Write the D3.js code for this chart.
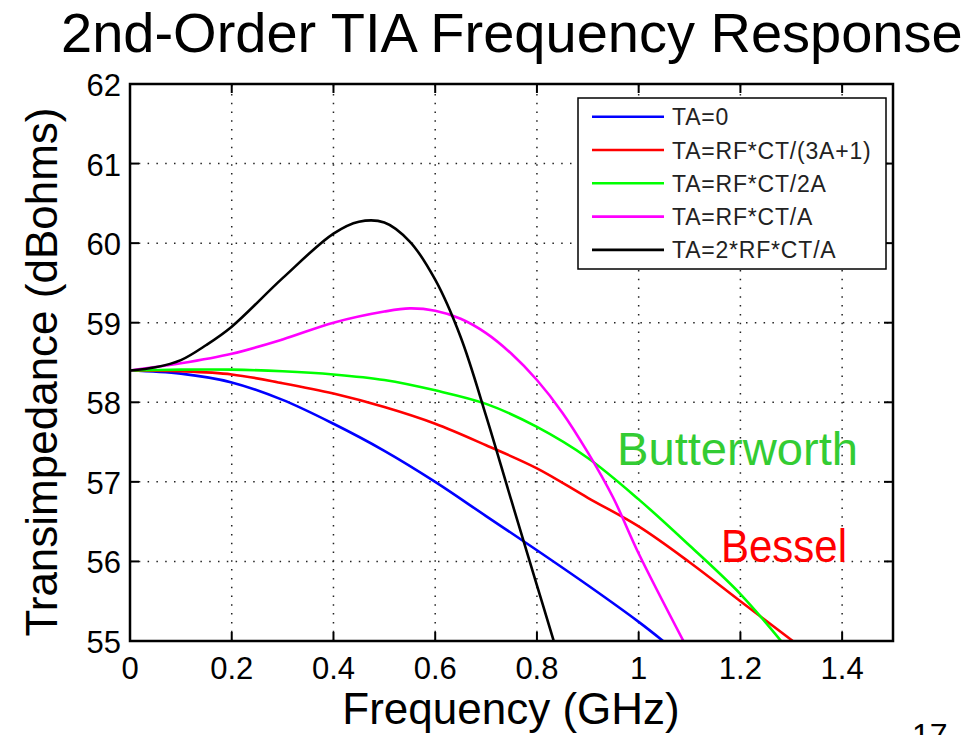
<!DOCTYPE html>
<html>
<head>
<meta charset="utf-8">
<script src="https://cdn.jsdelivr.net/npm/d3@7"></script>
<style>
    body { margin: 0; background: #fff; }
    svg { display: block; font-family: "Liberation Sans", Arial, sans-serif; }
    .grid line { stroke: #222; stroke-width: 1.5; stroke-dasharray: 1.5,7.3; }
    .tickLabel { font-size: 31px; fill: #000; }
    .axisTitle { font-size: 44px; fill: #000; }
    .legendText { font-size: 23px; fill: #222; letter-spacing: 0.8px; }
</style>
</head>
<body>
<script>
(function(){

    //tick values and labels
    var xTicks = [0, 0.2, 0.4, 0.6, 0.8, 1, 1.2, 1.4];
    var xTickLabels = ["0", "0.2", "0.4", "0.6", "0.8", "1", "1.2", "1.4"];
    var yTicks = [55, 56, 57, 58, 59, 60, 61, 62];
    var yTickLabels = ["55", "56", "57", "58", "59", "60", "61", "62"];

    //series names (legend order)
    var seriesNames = ["TA=0", "TA=RF*CT/(3A+1)", "TA=RF*CT/2A", "TA=RF*CT/A", "TA=2*RF*CT/A"];
    var seriesColors = ["#0000ff", "#ff0000", "#00ff00", "#ff00ff", "#000000"];

    //frequency (GHz) and transimpedance (dBohms)
    var freqTA0 = [0, 0.1, 0.2, 0.3, 0.4, 0.5, 0.6, 0.7, 0.8, 0.9, 1.0, 1.048];
    var dbTA0   = [58.40, 58.36, 58.25, 58.03, 57.73, 57.39, 57.00, 56.57, 56.14, 55.70, 55.24, 55.0];

    var freqBessel = [0, 0.1, 0.2, 0.3, 0.4, 0.5, 0.6, 0.7, 0.8, 0.9, 1.0, 1.1, 1.2, 1.303];
    var dbBessel   = [58.40, 58.39, 58.35, 58.24, 58.11, 57.94, 57.73, 57.46, 57.17, 56.80, 56.44, 55.99, 55.50, 55.0];

    var freqButter = [0, 0.1, 0.2, 0.3, 0.4, 0.5, 0.6, 0.7, 0.8, 0.9, 1.0, 1.1, 1.2, 1.28];
    var dbButter   = [58.40, 58.41, 58.41, 58.39, 58.35, 58.28, 58.15, 57.98, 57.69, 57.30, 56.78, 56.20, 55.59, 55.0];

    var freqTA1 = [0, 0.1, 0.2, 0.3, 0.4, 0.5, 0.55, 0.6, 0.65, 0.7, 0.75, 0.8, 0.85, 0.9, 0.95, 1.0, 1.088];
    var dbTA1   = [58.40, 58.49, 58.61, 58.79, 59.00, 59.14, 59.18, 59.15, 59.05, 58.87, 58.61, 58.28, 57.87, 57.37, 56.80, 56.10, 55.0];

    var freqTA2 = [0, 0.05, 0.1, 0.15, 0.2, 0.3, 0.4, 0.45, 0.5, 0.55, 0.6, 0.65, 0.7, 0.75, 0.8, 0.833];
    var dbTA2   = [58.40, 58.44, 58.53, 58.72, 58.95, 59.56, 60.12, 60.27, 60.26, 60.02, 59.54, 58.82, 57.83, 56.76, 55.70, 55.0];

    var seriesFreqs = [freqTA0, freqBessel, freqButter, freqTA1, freqTA2];
    var seriesDbs = [dbTA0, dbBessel, dbButter, dbTA1, dbTA2];

    window.onload = drawChart();

    function drawChart(){

        var width = 977,
            height = 735,
            left = 130,
            right = 893,
            top = 84,
            bottom = 641;

        var svg = d3.select("body")
            .append("svg")
            .attr("width", width)
            .attr("height", height);

        var x = d3.scaleLinear().domain([0, 1.5]).range([left, right]);
        var y = d3.scaleLinear().domain([55, 62]).range([bottom, top]);

        //title
        svg.append("text")
            .attr("x", 61)
            .attr("y", 52)
            .style("font-size", "56px")
            .text("2nd-Order TIA Frequency Response");

        //dotted grid
        var grid = svg.append("g").attr("class", "grid");
        grid.selectAll(".vgrid")
            .data(xTicks.filter(function(d){ return d > 0; }))
            .enter()
            .append("line")
            .attr("x1", function(d){ return x(d); })
            .attr("x2", function(d){ return x(d); })
            .attr("y1", bottom)
            .attr("y2", top);
        grid.selectAll(".hgrid")
            .data(yTicks.filter(function(d){ return d > 55 && d < 62; }))
            .enter()
            .append("line")
            .attr("x1", left)
            .attr("x2", right)
            .attr("y1", function(d){ return y(d); })
            .attr("y2", function(d){ return y(d); });

        //clip lines to plot area
        svg.append("clipPath")
            .attr("id", "plotClip")
            .append("rect")
            .attr("x", left)
            .attr("y", top)
            .attr("width", right - left)
            .attr("height", bottom - top);

        var line = d3.line()
            .x(function(d){ return x(d[0]); })
            .y(function(d){ return y(d[1]); })
            .curve(d3.curveCatmullRom.alpha(0.5));

        var seriesData = seriesNames.map(function(name, i){
            return {
                name: name,
                color: seriesColors[i],
                values: d3.zip(seriesFreqs[i], seriesDbs[i])
            };
        });

        svg.append("g")
            .attr("clip-path", "url(#plotClip)")
            .selectAll(".series")
            .data(seriesData)
            .enter()
            .append("path")
            .attr("class", "series")
            .attr("d", function(d){ return line(d.values); })
            .style("fill", "none")
            .style("stroke", function(d){ return d.color; })
            .style("stroke-width", 2.6);

        //axes box with inward ticks on all four sides
        var frame = svg.append("g");
        frame.append("rect")
            .attr("x", left)
            .attr("y", top)
            .attr("width", right - left)
            .attr("height", bottom - top)
            .style("fill", "none")
            .style("stroke", "#000")
            .style("stroke-width", 2.5);

        var tickLen = 9;
        frame.selectAll(".xtickB")
            .data(xTicks)
            .enter()
            .append("line")
            .attr("x1", function(d){ return x(d); })
            .attr("x2", function(d){ return x(d); })
            .attr("y1", bottom)
            .attr("y2", bottom - tickLen)
            .style("stroke", "#000").style("stroke-width", 2);
        frame.selectAll(".xtickT")
            .data(xTicks)
            .enter()
            .append("line")
            .attr("x1", function(d){ return x(d); })
            .attr("x2", function(d){ return x(d); })
            .attr("y1", top)
            .attr("y2", top + tickLen)
            .style("stroke", "#000").style("stroke-width", 2);
        frame.selectAll(".ytickL")
            .data(yTicks)
            .enter()
            .append("line")
            .attr("x1", left)
            .attr("x2", left + tickLen)
            .attr("y1", function(d){ return y(d); })
            .attr("y2", function(d){ return y(d); })
            .style("stroke", "#000").style("stroke-width", 2);
        frame.selectAll(".ytickR")
            .data(yTicks)
            .enter()
            .append("line")
            .attr("x1", right)
            .attr("x2", right - tickLen)
            .attr("y1", function(d){ return y(d); })
            .attr("y2", function(d){ return y(d); })
            .style("stroke", "#000").style("stroke-width", 2);

        //tick labels
        svg.selectAll(".xlab")
            .data(xTicks)
            .enter()
            .append("text")
            .attr("class", "tickLabel")
            .attr("x", function(d){ return x(d); })
            .attr("y", 679)
            .attr("text-anchor", "middle")
            .text(function(d, i){ return xTickLabels[i]; });

        svg.selectAll(".ylab")
            .data(yTicks)
            .enter()
            .append("text")
            .attr("class", "tickLabel")
            .attr("x", 121)
            .attr("y", function(d){ return y(d) + 12; })
            .attr("text-anchor", "end")
            .text(function(d, i){ return yTickLabels[i]; });

        //axis titles
        svg.append("text")
            .attr("class", "axisTitle")
            .attr("x", 511)
            .attr("y", 724)
            .attr("text-anchor", "middle")
            .text("Frequency (GHz)");

        svg.append("text")
            .attr("class", "axisTitle")
            .attr("transform", "translate(57," + 372 + ") rotate(-90)")
            .attr("text-anchor", "middle")
            .text("Transimpedance (dBohms)");

        //legend
        var legend = svg.append("g");
        legend.append("rect")
            .attr("x", 578)
            .attr("y", 98)
            .attr("width", 308)
            .attr("height", 171)
            .style("fill", "#fff")
            .style("stroke", "#000")
            .style("stroke-width", 1.5);

        var entries = legend.selectAll(".entry")
            .data(seriesData)
            .enter()
            .append("g")
            .attr("transform", function(d, i){
                return "translate(0," + (116.7 + i * 33.3) + ")";
            });
        entries.append("line")
            .attr("x1", 592)
            .attr("x2", 664)
            .style("stroke", function(d){ return d.color; })
            .style("stroke-width", 2.6);
        entries.append("text")
            .attr("class", "legendText")
            .attr("x", 672)
            .attr("y", 8.5)
            .text(function(d){ return d.name; });

        //annotations
        svg.append("text")
            .attr("x", 617)
            .attr("y", 465)
            .attr("textLength", 241)
            .attr("lengthAdjust", "spacingAndGlyphs")
            .style("font-size", "47px")
            .style("fill", "#33cc33")
            .text("Butterworth");

        svg.append("text")
            .attr("x", 721)
            .attr("y", 562)
            .attr("textLength", 126)
            .attr("lengthAdjust", "spacingAndGlyphs")
            .style("font-size", "47px")
            .style("fill", "#ff0000")
            .text("Bessel");

        //slide page number, cut by the frame edge as in the slide
        svg.append("text")
            .attr("x", 912)
            .attr("y", 746)
            .style("font-size", "32px")
            .text("17");

    }; // end of drawChart

})();
</script>
</body>
</html>
